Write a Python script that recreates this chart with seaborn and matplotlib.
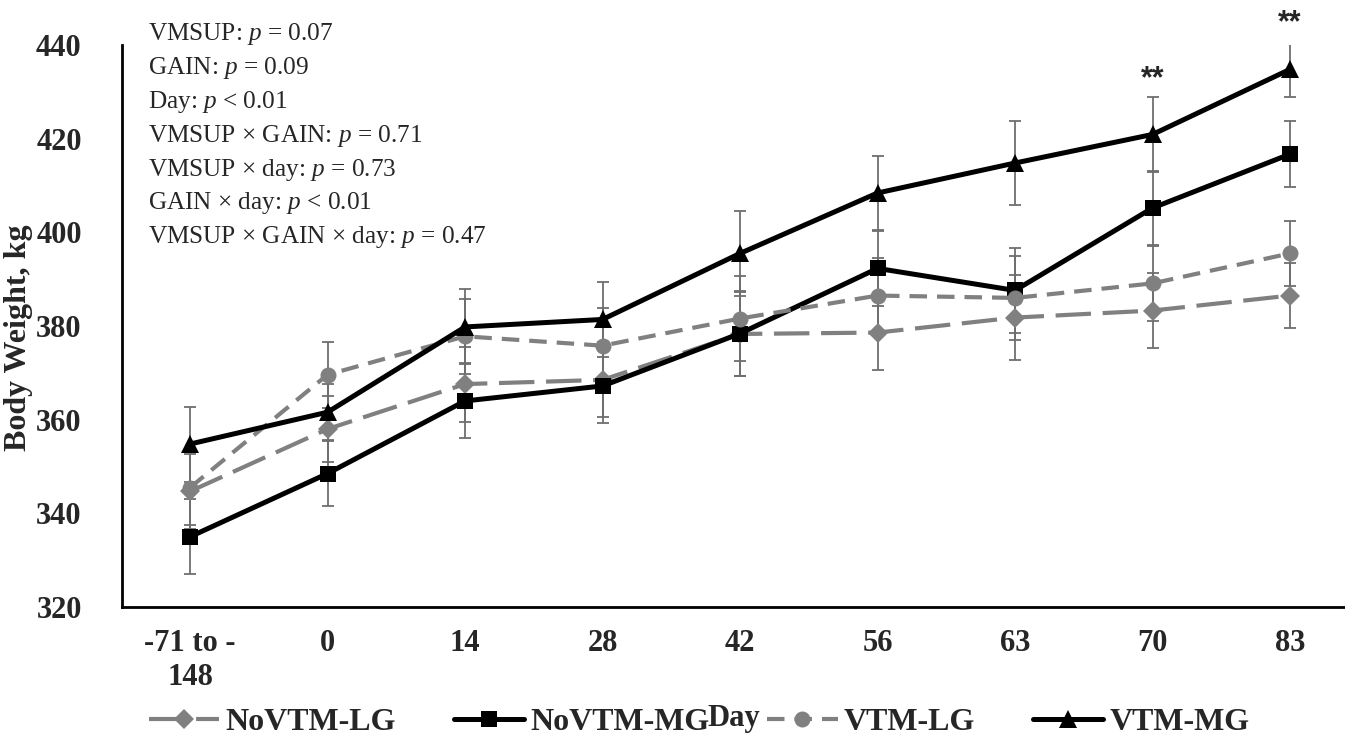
import pandas as pd
import seaborn as sns
import matplotlib.pyplot as plt

# data
days = ['-71 to -\n148', '0', '14', '28', '42', '56', '63', '70', '83']
groups = ['NoVTM-LG', 'NoVTM-MG', 'VTM-LG', 'VTM-MG']

novtm_lg = [344.7, 358.0, 367.6, 368.5, 378.3, 378.6, 381.8, 383.3, 386.5]
novtm_mg = [335.0, 348.5, 364.0, 367.2, 378.4, 392.3, 387.6, 405.2, 416.7]
vtm_lg = [345.5, 369.6, 377.8, 375.8, 381.6, 386.5, 386.0, 389.1, 395.5]
vtm_mg = [354.8, 361.6, 379.8, 381.4, 395.5, 408.4, 414.8, 420.9, 434.8]

se_novtm_lg = [8, 7, 8, 8, 9, 8, 9, 8, 7]
se_novtm_mg = [8, 7, 8, 8, 9, 8, 9, 8, 7]
se_vtm_lg = [8, 7, 8, 8, 9, 8, 9, 8, 7]
se_vtm_mg = [8, 6, 8, 8, 9, 8, 9, 8, 6]

stats_lines = [
    'VMSUP: $p$ = 0.07',
    'GAIN: $p$ = 0.09',
    'Day: $p$ < 0.01',
    'VMSUP × GAIN: $p$ = 0.71',
    'VMSUP × day: $p$ = 0.73',
    'GAIN × day: $p$ < 0.01',
    'VMSUP × GAIN × day: $p$ = 0.47',
]
signif_days = ['70', '83']

means = {'NoVTM-LG': novtm_lg, 'NoVTM-MG': novtm_mg, 'VTM-LG': vtm_lg, 'VTM-MG': vtm_mg}
ses = {'NoVTM-LG': se_novtm_lg, 'NoVTM-MG': se_novtm_mg, 'VTM-LG': se_vtm_lg, 'VTM-MG': se_vtm_mg}

rows = []
for g in groups:
    for i, d in enumerate(days):
        rows.append({'group': g, 'pos': i, 'day': d, 'bw': means[g][i], 'se': ses[g][i]})
df = pd.DataFrame(rows)

sns.set_style('white')
plt.rcParams['font.family'] = ['Liberation Serif', 'DejaVu Serif']
plt.rcParams['mathtext.fontset'] = 'custom'
plt.rcParams['mathtext.rm'] = 'Liberation Serif'
plt.rcParams['mathtext.it'] = 'Liberation Serif:italic'

fig = plt.figure(figsize=(13.45, 7.4), dpi=100)
ax = fig.add_axes([0.0907, 0.1797, 0.9093, 0.7595])

styles = {
    'NoVTM-LG': dict(color='#808080', marker='D', ls=(0, (8.5, 2.8)), lw=3.0, ms=10.5),
    'NoVTM-MG': dict(color='black', marker='s', ls='-', lw=3.6, ms=12),
    'VTM-LG': dict(color='#808080', marker='o', ls=(0, (4.2, 2.4)), lw=3.0, ms=11.5),
    'VTM-MG': dict(color='black', marker='^', ls='-', lw=3.6, ms=13.5),
}

# error bars first so the lines sit on top
for g in groups:
    sub = df[df['group'] == g]
    ax.errorbar(sub['pos'], sub['bw'], yerr=sub['se'], fmt='none', ecolor='#6e6e6e',
                elinewidth=1.3, capsize=4.5, capthick=1.3, zorder=1)

for k, g in enumerate(groups):
    st = styles[g]
    sub = df[df['group'] == g]
    sns.lineplot(data=sub, x='pos', y='bw', ax=ax, color=st['color'], marker=st['marker'],
                 linestyle=st['ls'], linewidth=st['lw'], markersize=st['ms'],
                 markeredgewidth=0, label=g, zorder=2 + k)

# significance stars above VTM-MG
for d in signif_days:
    i = days.index(d)
    top = vtm_mg[i] + se_vtm_mg[i]
    ax.annotate('**', xy=(i, top), xytext=(0, 13), textcoords='offset points',
                ha='center', va='center', fontsize=22, fontweight='bold',
                family='Liberation Sans', annotation_clip=False)

ax.set_xlim(-0.495, 8.4)
ax.set_ylim(320, 440)
ax.set_yticks([320, 340, 360, 380, 400, 420, 440])
ax.set_xticks(range(len(days)))
ax.set_xticklabels(days)
ax.tick_params(axis='both', length=0, labelsize=22)
ax.tick_params(axis='y', pad=29)
ax.tick_params(axis='x', pad=16)
for lab in ax.get_xticklabels() + ax.get_yticklabels():
    lab.set_fontweight('bold')

for s in ['top', 'right']:
    ax.spines[s].set_visible(False)
for s in ['left', 'bottom']:
    ax.spines[s].set_color('black')
    ax.spines[s].set_linewidth(2.0)

ax.set_ylabel('Body Weight, kg', fontsize=23, fontweight='bold')
ax.yaxis.set_label_coords(-0.073, 0.48)
ax.set_xlabel('Day', fontsize=22, fontweight='bold')
ax.xaxis.set_label_coords(0.5, -0.172)

# model p-values, top left
for i, line in enumerate(stats_lines):
    fig.text(148 / 1345, 1 - (40 + i * 33.9) / 740, line, fontsize=18.2, va='baseline', ha='left')

leg = ax.legend(loc='center', bbox_to_anchor=(0.52, 0.024), bbox_transform=fig.transFigure,
                ncol=4, frameon=False, handlelength=2.2, handletextpad=0.2,
                columnspacing=1.8, borderpad=0, prop={'size': 23, 'weight': 'bold'})

fig.savefig('out.png', dpi=100)
